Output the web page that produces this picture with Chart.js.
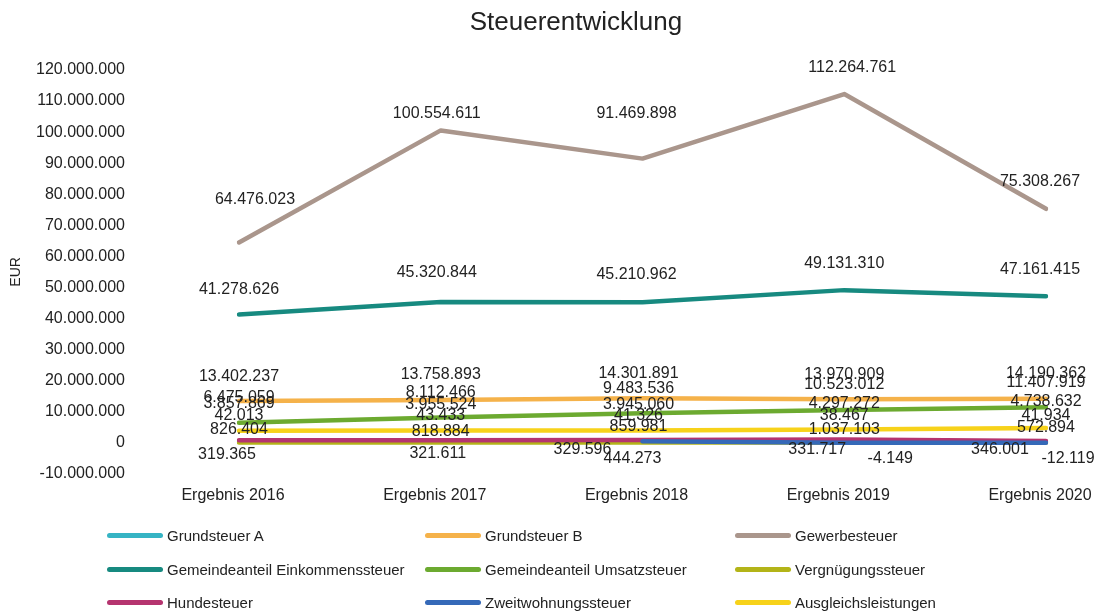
<!DOCTYPE html>
<html>
<head>
<meta charset="utf-8">
<script src="https://cdn.jsdelivr.net/npm/chart.js@4/dist/chart.umd.min.js"></script>
<style>
  body { margin: 0; background: #fff; font-family: "Liberation Sans", Arial, sans-serif; }
  #wrap { position: relative; width: 1098px; height: 614px; }
  #title { position: absolute; left: 376px; width: 400px; top: 8px; line-height: 26px;
           text-align: center; font-size: 26px; color: #222; }
  .lg { position: absolute; height: 18px; display: flex; align-items: center;
        font-size: 15px; color: #222; white-space: nowrap; }
  .lg span { display: inline-block; width: 56px; height: 5px; border-radius: 3px; margin-right: 4px; }
</style>
</head>
<body>
<div id="wrap">
  <canvas id="chart" width="1098" height="614"></canvas>
  <div id="title">Steuerentwicklung</div>
  <div id="legend"></div>
</div>
<script>
// data
const categories = ["Ergebnis 2016", "Ergebnis 2017", "Ergebnis 2018", "Ergebnis 2019", "Ergebnis 2020"];

const grundsteuerA = [319365, 321611, 329596, 331717, 346001];
const grundsteuerB = [13402237, 13758893, 14301891, 13970909, 14190362];
const gewerbesteuer = [64476023, 100554611, 91469898, 112264761, 75308267];
const einkommenssteuer = [41278626, 45320844, 45210962, 49131310, 47161415];
const umsatzsteuer = [6475059, 8112466, 9483536, 10523012, 11407919];
const vergnuegungssteuer = [42013, 43433, 41326, 38467, 41934];
const hundesteuer = [826404, 818884, 859981, 1037103, 572894];
const zweitwohnungssteuer = [null, null, 444273, -4149, -12119];
const ausgleichsleistungen = [3857869, 3955524, 3945060, 4297272, 4738632];

const yTicks = { min: -10000000, max: 120000000, step: 10000000 };

// label placement (pixel offsets from each point)
const up = [[0, -25], [0, -25], [-4, -25], [0, -25], [0, -25]];

const series = [
  { label: "Grundsteuer A", data: grundsteuerA, color: "#36b4c4",
    offsets: [[-12, 13], [-3, 12], [-60, 8], [-27, 8], [-46, 8]] },
  { label: "Grundsteuer B", data: grundsteuerB, color: "#f5b24a", offsets: up },
  { label: "Gewerbesteuer", data: gewerbesteuer, color: "#aa968c",
    offsets: [[16, -43], [-4, -17], [-6, -45], [8, -26], [-6, -27]] },
  { label: "Gemeindeanteil Einkommenssteuer", data: einkommenssteuer, color: "#178a80",
    offsets: [[0, -25], [-4, -29], [-6, -28], [0, -27], [-6, -27]] },
  { label: "Gemeindeanteil Umsatzsteuer", data: umsatzsteuer, color: "#6caa30", offsets: up },
  { label: "Vergnügungssteuer", data: vergnuegungssteuer, color: "#b3b418",
    offsets: [[0, -27], [0, -27], [-4, -27], [0, -27], [0, -27]] },
  { label: "Hundesteuer", data: hundesteuer, color: "#b5346f",
    offsets: [[0, -11], [0, -9], [-4, -13], [0, -10], [0, -13]] },
  { label: "Zweitwohnungssteuer", data: zweitwohnungssteuer, color: "#3569b8",
    offsets: [[0, 0], [0, 0], [-10, 17], [46, 16], [22, 16]] },
  { label: "Ausgleichsleistungen", data: ausgleichsleistungen, color: "#f7d21a",
    offsets: [[0, -27], [0, -26], [-4, -26], [0, -26], [0, -26]] }
];

const FONT = '"Liberation Sans", Arial, sans-serif';

function fmt(v) {
  const s = Math.abs(Math.round(v)).toString().replace(/\B(?=(\d{3})+(?!\d))/g, ".");
  return (v < 0 ? "-" : "") + s;
}

const valueLabels = {
  id: "valueLabels",
  afterDatasetsDraw(chart) {
    const ctx = chart.ctx;
    ctx.save();
    ctx.font = "16px " + FONT;
    ctx.fillStyle = "#222";
    ctx.textAlign = "center";
    ctx.textBaseline = "middle";
    chart.data.datasets.forEach((ds, i) => {
      const meta = chart.getDatasetMeta(i);
      meta.data.forEach((pt, j) => {
        const v = ds.data[j];
        if (v == null) return;
        const off = ds.labelOffsets[j];
        ctx.fillText(fmt(v), pt.x + off[0], pt.y + off[1]);
      });
    });
    ctx.restore();
  }
};

const datasets = series.map((s, i) => ({
  label: s.label,
  data: s.data,
  borderColor: s.color,
  backgroundColor: s.color,
  borderWidth: 4.5,
  borderCapStyle: "round",
  borderJoinStyle: "round",
  pointRadius: 0,
  tension: 0,
  fill: false,
  order: series.length - i, // later series on top
  labelOffsets: s.offsets
}));

const ctx = document.getElementById("chart").getContext("2d");
const chart = new Chart(ctx, {
  type: "line",
  data: { labels: categories, datasets: datasets },
  options: {
    responsive: false,
    animation: false,
    devicePixelRatio: 1,
    layout: { padding: { top: 70, left: 8, right: 52, bottom: 97 } },
    plugins: {
      legend: { display: false },
      title: { display: false },
      tooltip: { enabled: false }
    },
    scales: {
      x: {
        offset: false,
        grid: { display: false, drawTicks: false },
        border: { display: false },
        ticks: { padding: 12, labelOffset: -6, color: "#222", maxRotation: 0, autoSkip: false,
                 font: { size: 16, family: FONT } },
        afterFit: scale => {
          scale.paddingLeft = 0;
          scale.paddingRight = 0;
        }
      },
      y: {
        min: yTicks.min,
        max: yTicks.max,
        grid: { display: false, drawTicks: false },
        border: { display: false },
        ticks: { stepSize: yTicks.step, padding: 114, color: "#222",
                 font: { size: 16, family: FONT },
                 callback: v => fmt(v) },
        title: { display: true, text: "EUR", color: "#222", padding: 0,
                 font: { size: 14, family: FONT } },
        afterFit: scale => {
          scale.width = 231;
          // the wide tick gap should not push the plot down
          scale.paddingTop = 0;
          scale.paddingBottom = 0;
        }
      }
    }
  },
  plugins: [valueLabels]
});

// legend in three columns, built from the datasets
const colX = [107, 425, 735];
const rowY = [535, 569, 602];
const legend = document.getElementById("legend");
chart.data.datasets.forEach((ds, i) => {
  const item = document.createElement("div");
  item.className = "lg";
  item.style.left = colX[i % 3] + "px";
  item.style.top = (rowY[Math.floor(i / 3)] - 9) + "px";
  item.innerHTML = `<span style="background:${ds.borderColor}"></span>${ds.label}`;
  legend.appendChild(item);
});
</script>
</body>
</html>
